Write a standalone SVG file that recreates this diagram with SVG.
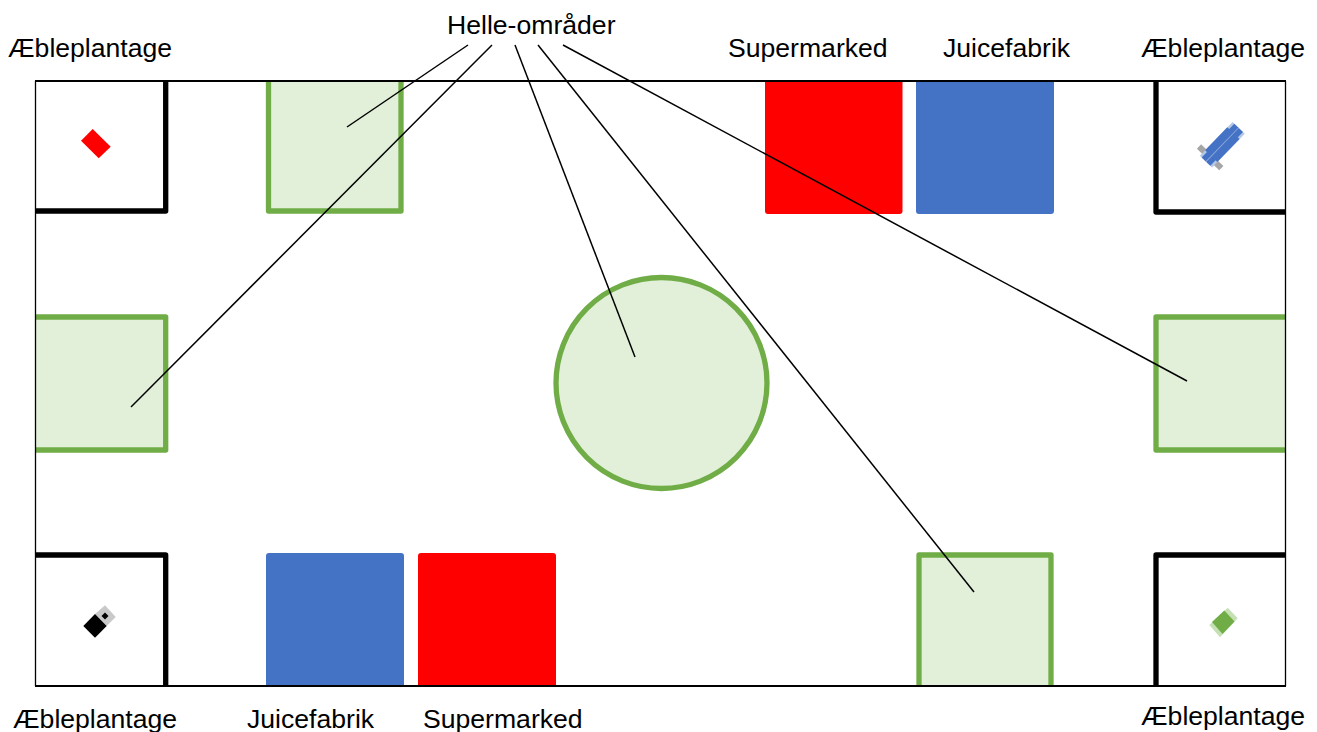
<svg xmlns="http://www.w3.org/2000/svg" width="1317" height="732" viewBox="0 0 1317 732">
<style>
text{font-family:"Liberation Sans",Arial,sans-serif;font-size:26.600px;fill:#000}
.g{fill:#e2f0d9;stroke:#70ad47;stroke-width:5.300;stroke-linejoin:round}
.k{fill:none;stroke:#000;stroke-width:5.300;stroke-linejoin:round}
.c line{stroke:#000;stroke-width:1.500}
.lb{fill:#b4c7e7}
.f{fill:none;stroke:#000}
</style>
<rect width="1317" height="732" fill="#fff"/>
<g id="plantage-tl"><path class="k" d="M165.700 81V211H36"/><polygon points="92.700,129 81,140.700 98.700,158.300 110.700,146.700" fill="#f00"/></g>
<g id="plantage-tr"><path class="k" d="M1285 212H1156V81"/>
<g transform="translate(1222.300 144.700) rotate(-46)">
<rect x="-20.500" y="-15.500" width="6" height="31" fill="#a6a6a6"/>
<rect x="-23.500" y="-8.500" width="47" height="17" class="lb"/>
<rect x="-16" y="-8.500" width="32" height="17" fill="#4472c4"/>
<rect x="-23.500" y="-6" width="47" height="12" fill="#4472c4"/>
<rect x="-23.500" y="-.4" width="47" height=".8" fill="#8faadc"/>
</g></g>
<g id="plantage-bl"><path class="k" d="M36 555H165.700V686"/>
<polygon points="95,614 105,605.300 115.700,617 106.700,626" fill="#c9c9c9"/>
<polygon points="83.300,626 95,614 106.700,626 95,637.700" fill="#000"/>
<polygon points="101.500,616 105,612.500 108.500,616 105,619.500" fill="#000"/></g>
<g id="plantage-br"><path class="k" d="M1285 555H1156V686"/>
<polygon points="1209.300,625 1227.700,607.700 1237.700,618.300 1220,637.300" fill="#c5e0b4"/>
<polygon points="1212,622 1224.300,610.500 1234.500,621.500 1222.500,634" fill="#70ad47"/></g>
<g id="helle-top"><path class="g" d="M268.500 81V211H401V81"/></g>
<g id="helle-left"><path class="g" d="M36 317H165.700V450H36"/></g>
<g id="helle-right"><path class="g" d="M1285 317H1156V450H1285"/></g>
<g id="helle-bottom"><path class="g" d="M919 686V555H1051V686"/></g>
<g id="helle-center"><circle class="g" cx="661.500" cy="383" r="105.500"/></g>
<g id="supermarked-top"><path d="M765 81H902.500V211a3 3 0 0 1-3 3H768a3 3 0 0 1-3-3Z" fill="#f00"/></g>
<g id="juice-top"><path d="M916 81H1054V211a3 3 0 0 1-3 3H919a3 3 0 0 1-3-3Z" fill="#4472c4"/></g>
<g id="juice-bottom"><path d="M266 686V556a3 3 0 0 1 3-3H401a3 3 0 0 1 3 3V686Z" fill="#4472c4"/></g>
<g id="supermarked-bottom"><path d="M418 686V556a3 3 0 0 1 3-3H553a3 3 0 0 1 3 3V686Z" fill="#f00"/></g>
<g id="frame"><path class="f" stroke-width="1.300" d="M35.500 81V686M1285.500 81V686"/><path class="f" stroke-width="1.800" d="M35 81H1286M35 686H1286"/></g>
<g id="connectors" class="c">
<line x1="468" y1="45" x2="347" y2="127"/>
<line x1="492" y1="45" x2="131" y2="407"/>
<line x1="515" y1="45" x2="635" y2="357"/>
<line x1="538" y1="45" x2="974" y2="592"/>
<line x1="563" y1="45" x2="1187" y2="381"/>
</g>
<g id="labels">
<text x="447" y="33.500">Helle-områder</text>
<text x="8" y="57">Æbleplantage</text>
<text x="728" y="57">Supermarked</text>
<text x="943" y="57">Juicefabrik</text>
<text x="1141" y="57">Æbleplantage</text>
<text x="13" y="727.500">Æbleplantage</text>
<text x="247" y="727.500">Juicefabrik</text>
<text x="423" y="727.500">Supermarked</text>
<text x="1141" y="725">Æbleplantage</text>
</g>
</svg>
